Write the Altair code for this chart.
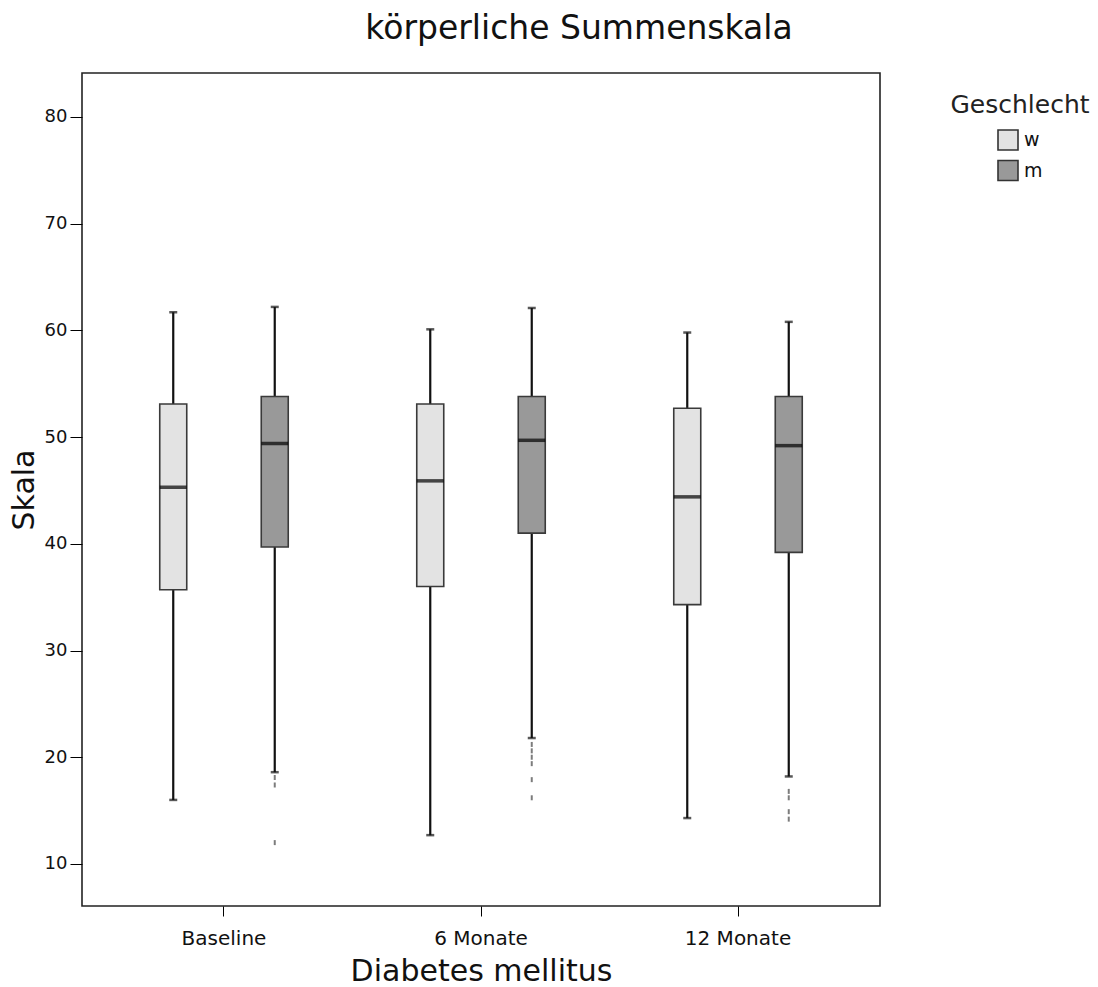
import altair as alt
import pandas as pd

# --- data ---
times = ["Baseline", "Baseline", "6 Monate", "6 Monate", "12 Monate", "12 Monate"]
sexes = ["w", "m", "w", "m", "w", "m"]
whisk_low = [16.0, 18.6, 12.7, 21.8, 14.3, 18.2]
q1 = [35.7, 39.7, 36.0, 41.0, 34.3, 39.2]
median = [45.3, 49.4, 45.9, 49.7, 44.4, 49.2]
q3 = [53.1, 53.8, 53.1, 53.8, 52.7, 53.8]
whisk_high = [61.7, 62.2, 60.1, 62.1, 59.8, 60.8]

out_times = ["Baseline", "Baseline", "Baseline",
             "6 Monate", "6 Monate", "6 Monate", "6 Monate", "6 Monate", "6 Monate",
             "12 Monate", "12 Monate", "12 Monate", "12 Monate"]
out_sexes = ["m", "m", "m",
             "m", "m", "m", "m", "m", "m",
             "m", "m", "m", "m"]
out_values = [18.1, 17.4, 12.0,
              21.2, 20.6, 20.0, 19.4, 17.9, 16.2,
              16.8, 16.2, 14.9, 14.2]

time_order = ["Baseline", "6 Monate", "12 Monate"]
sex_order = ["w", "m"]

stats = pd.DataFrame({
    "Zeit": times, "Geschlecht": sexes, "low": whisk_low, "q1": q1,
    "med": median, "q3": q3, "high": whisk_high,
})
outl = pd.DataFrame({"Zeit": out_times, "Geschlecht": out_sexes, "v": out_values})

FONT = "DejaVu Sans"

x_enc = alt.X(
    "Zeit:N", sort=time_order,
    scale=alt.Scale(paddingInner=0, paddingOuter=0.0525),
    axis=alt.Axis(title="Diabetes mellitus", labelAngle=0, labelFontSize=20,
                  titleFontSize=30, titleFontWeight="normal", tickSize=10,
                  labelPadding=12, titlePadding=8, domain=False,
                  tickColor="#000000", labelColor="#111111", titleColor="#111111"),
)
xo_enc = alt.XOffset("Geschlecht:N", sort=sex_order,
                     scale=alt.Scale(paddingInner=0, paddingOuter=0.266))
y_scale = alt.Scale(domain=[6.06, 84.12], nice=False, zero=False)
y_axis = alt.Axis(title="Skala", values=[10, 20, 30, 40, 50, 60, 70, 80],
                  labelFontSize=18, titleFontSize=30, titleFontWeight="normal",
                  tickSize=12, labelPadding=3, titlePadding=5, grid=False,
                  domain=False, tickColor="#000000", labelColor="#111111",
                  titleColor="#111111")

base = alt.Chart(stats).encode(x=x_enc, xOffset=xo_enc)

whiskers = base.mark_rule(color="#111111", strokeWidth=2.2).encode(
    y=alt.Y("low:Q", scale=y_scale, axis=y_axis), y2="high:Q")

caps_low = base.mark_tick(color="#111111", size=8, thickness=2.5).encode(
    y=alt.Y("low:Q", scale=y_scale))
caps_high = base.mark_tick(color="#111111", size=8, thickness=2.5).encode(
    y=alt.Y("high:Q", scale=y_scale))

boxes = base.mark_bar(size=27, stroke="#3a3a3a", strokeWidth=1.6).encode(
    y=alt.Y("q1:Q", scale=y_scale), y2="q3:Q",
    fill=alt.Fill("Geschlecht:N", sort=sex_order,
                  scale=alt.Scale(domain=sex_order, range=["#e3e3e3", "#999999"]),
                  legend=alt.Legend(title="Geschlecht", orient="none",
                                    legendX=868, legendY=20,
                                    titleFontSize=25, titleFontWeight="normal",
                                    titleAnchor="middle", titleAlign="center",
                                    titlePadding=11, labelFontSize=19,
                                    symbolType="square", symbolSize=400,
                                    symbolStrokeColor="#333333", symbolStrokeWidth=1.6,
                                    labelOffset=5, rowPadding=2.5, padding=0,
                                    titleColor="#222222", labelColor="#111111")),
)

medians = base.mark_tick(color="#000000", size=27, thickness=3.5).encode(
    y=alt.Y("med:Q", scale=y_scale))

outliers = alt.Chart(outl).mark_tick(orient="vertical", size=5, thickness=2,
                                     color="#444444").encode(
    x=alt.X("Zeit:N", sort=time_order), xOffset=alt.XOffset("Geschlecht:N", sort=sex_order),
    y=alt.Y("v:Q", scale=y_scale))

chart = alt.layer(whiskers, caps_low, caps_high, boxes, medians, outliers).properties(
    width=798, height=833,
    autosize=alt.AutoSizeParams(type="none"),
    padding={"left": 82, "top": 73, "right": 218, "bottom": 81},
    title=alt.TitleParams("körperliche Summenskala", fontSize=33, fontWeight="normal",
                          font=FONT, anchor="middle", dx=98, offset=1,
                          baseline="alphabetic", color="#111111"),
).configure(font=FONT).configure_view(stroke="#222222", strokeWidth=1.6)

chart.save("out.html", embed_options={"renderer": "svg", "actions": False})
